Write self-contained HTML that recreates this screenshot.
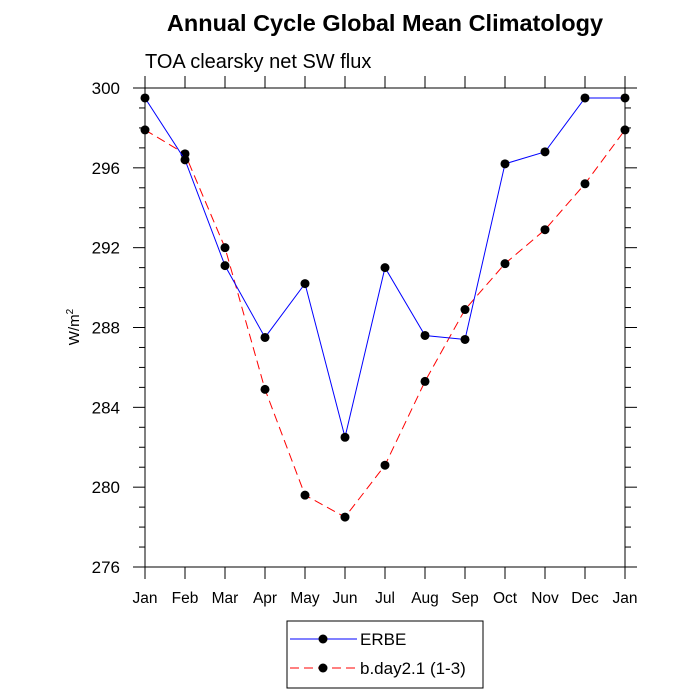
<!DOCTYPE html>
<html><head><meta charset="utf-8"><style>
body{margin:0;background:#fff}
svg{display:block;font-family:"Liberation Sans",Helvetica,sans-serif}
</style></head><body>
<svg id="c" width="700" height="700" viewBox="0 0 700 700" xmlns="http://www.w3.org/2000/svg">
<text x="385" y="31" text-anchor="middle" font-size="23.5" font-weight="bold">Annual Cycle Global Mean Climatology</text>
<text x="145" y="68" font-size="20">TOA clearsky net SW flux</text>
<text transform="translate(79,327) rotate(-90)" text-anchor="middle" font-size="15">W/m<tspan font-size="10" dy="-6">2</tspan></text>
<g id="ax"></g>
<g id="series"></g>
<g>
<rect x="287" y="621" width="196" height="67" fill="#fff" stroke="#000" stroke-width="1"/>
<line x1="290" y1="639" x2="357" y2="639" stroke="#00f" stroke-width="1"/>
<circle cx="323" cy="639" r="4.5" fill="#000"/>
<text x="360" y="645" font-size="17">ERBE</text>
<line x1="290" y1="668" x2="357" y2="668" stroke="#f00" stroke-width="1" stroke-dasharray="9,5"/>
<circle cx="323" cy="668" r="4.5" fill="#000"/>
<text x="360" y="674" font-size="17">b.day2.1 (1-3)</text>
</g>
</svg>
<script>
const months=["Jan","Feb","Mar","Apr","May","Jun","Jul","Aug","Sep","Oct","Nov","Dec","Jan"];
const erbe=[299.5,296.4,291.1,287.5,290.2,282.5,291.0,287.6,287.4,296.2,296.8,299.5,299.5];
const bday=[297.9,296.7,292.0,284.9,279.6,278.5,281.1,285.3,288.9,291.2,292.9,295.2,297.9];
const yTicks=[276,280,284,288,292,296,300];
const NS="http://www.w3.org/2000/svg";
const X0=145,X1=625,Y0=88,Y1=567,YMIN=276,YMAX=300;
const xs=i=>X0+(X1-X0)*i/(months.length-1);
const ys=v=>Y1-(v-YMIN)/(YMAX-YMIN)*(Y1-Y0);
function mk(t,a,p){const e=document.createElementNS(NS,t);for(const k in a)e.setAttribute(k,a[k]);p.appendChild(e);return e;}
const ax=document.getElementById('ax');
const fr=mk('rect',{x:X0,y:Y0,width:X1-X0,height:Y1-Y0,fill:'none',stroke:'#000','stroke-width':1},ax);


months.forEach((m,i)=>{
 const x=xs(i);
 mk('line',{x1:x,y1:Y1,x2:x,y2:Y1+12,stroke:'#000'},ax);
 mk('line',{x1:x,y1:Y0,x2:x,y2:Y0-12,stroke:'#000'},ax);
 const t=mk('text',{x:x,y:Y1+36,'text-anchor':'middle','font-size':15.5},ax);t.textContent=m;
 
 
});
for(let v=YMIN;v<=YMAX;v++){
 const y=ys(v),maj=(v-YMIN)%4===0,L=maj?12:6;
 mk('line',{x1:X0,y1:y,x2:X0-L,y2:y,stroke:'#000'},ax);
 mk('line',{x1:X1,y1:y,x2:X1+L,y2:y,stroke:'#000'},ax);
}
yTicks.forEach(v=>{
 const t=mk('text',{x:X0-25,y:ys(v)+6,'text-anchor':'end','font-size':17},ax);t.textContent=v;
 
 
});
const sg=document.getElementById('series');
function draw(data,col,dash,name){
 const p=mk('polyline',{points:data.map((v,i)=>xs(i)+','+ys(v)).join(' '),fill:'none',stroke:col,'stroke-width':1,'stroke-dasharray':dash},sg);
 
 
 data.forEach((v,i)=>{
  const c=mk('circle',{cx:xs(i),cy:ys(v),r:4.5,fill:'#000'},sg);
  
  
 });
}
draw(bday,'#f00','9,5','bday');
draw(erbe,'#00f','none','erbe');
</script>
</body></html>
